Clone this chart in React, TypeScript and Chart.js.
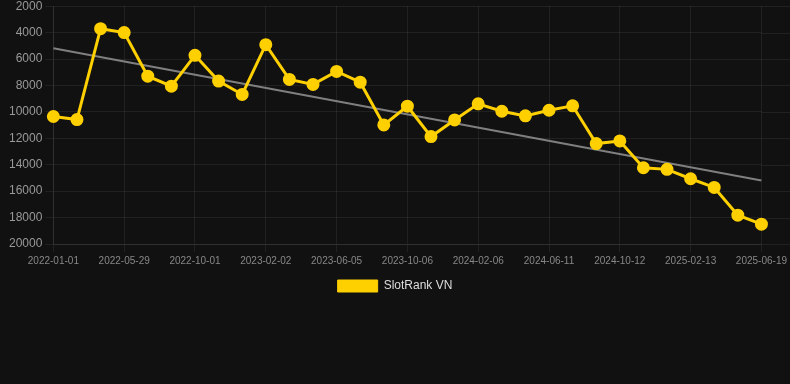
import React, { useEffect, useRef } from "react";
import { Chart, registerables } from "chart.js";

Chart.register(...registerables);

const categories: string[] = [
  "2022-01-01", "2022-02-20", "2022-04-09", "2022-05-29", "2022-07-10", "2022-08-20",
  "2022-10-01", "2022-11-11", "2022-12-22", "2023-02-02", "2023-03-15", "2023-04-25",
  "2023-06-05", "2023-07-16", "2023-08-26", "2023-10-06", "2023-11-16", "2023-12-27",
  "2024-02-06", "2024-03-18", "2024-04-30", "2024-06-11", "2024-07-22", "2024-09-01",
  "2024-10-12", "2024-11-22", "2025-01-02", "2025-02-13", "2025-03-26", "2025-05-08",
  "2025-06-19",
];

const rankValues: number[] = [
  10350, 10580, 3700, 4000, 7300, 8050, 5720, 7670, 8680, 4910, 7540, 7920, 6940, 7750,
  10990, 9570, 11870, 10610, 9390, 9950, 10300, 9875, 9540, 12400, 12200, 14230, 14350,
  15060, 15720, 17820, 18500,
];

const trendStart = { x: "2022-01-01", y: 5190 };
const trendEnd = { x: "2025-06-19", y: 15190 };

const yTicks = { min: 2000, max: 20000, step: 2000 };

const seriesLabel = "SlotRank VN";
const YELLOW = "#ffd000";
const GRID = "rgba(255,255,255,0.07)";

const extendGrid = {
  id: "extendGrid",
  beforeDatasetsDraw(chart: any) {
    const y = chart.scales.y;
    const { ctx, chartArea } = chart;
    ctx.save();
    ctx.strokeStyle = GRID;
    ctx.lineWidth = 1;
    y.ticks.forEach((_t: any, i: number) => {
      const py = Math.round(y.getPixelForTick(i)) + 0.5;
      ctx.beginPath();
      ctx.moveTo(chartArea.right, py);
      ctx.lineTo(chart.width, py);
      ctx.stroke();
    });
    ctx.restore();
  },
};

export default function App() {
  const ref = useRef<HTMLCanvasElement | null>(null);
  useEffect(() => {
    document.body.style.margin = "0";
    document.body.style.background = "#111111";
    Chart.defaults.font.family = "'Liberation Sans', Arial, Helvetica, sans-serif";
    const chart = new Chart(ref.current as HTMLCanvasElement, {
      type: "line",
      data: {
        labels: categories,
        datasets: [
          {
            label: seriesLabel,
            data: rankValues,
            borderColor: YELLOW,
            backgroundColor: YELLOW,
            borderWidth: 3,
            pointRadius: 5,
            pointBackgroundColor: YELLOW,
            pointBorderColor: YELLOW,
            tension: 0,
          },
          {
            label: "trend",
            data: [trendStart, trendEnd] as any,
            borderColor: "rgba(140,140,140,0.9)",
            borderWidth: 2,
            pointRadius: 0,
            tension: 0,
          },
        ],
      },
      options: {
        animation: false,
        responsive: true,
        maintainAspectRatio: false,
        plugins: {
          legend: {
            position: "bottom",
            labels: {
              color: "#dddddd",
              boxWidth: 40,
              boxHeight: 12,
              font: { size: 12 },
              filter: (item: any) => item.text === seriesLabel,
              generateLabels: (ch: any) =>
                Chart.defaults.plugins.legend.labels
                  .generateLabels(ch)
                  .map((it: any) => ({ ...it, lineWidth: 1 })),
            },
          },
          tooltip: { enabled: false },
        },
        scales: {
          x: {
            grid: {
              color: (c: any) => (c.index % 3 === 0 ? GRID : "transparent"),
            },
            border: { color: GRID },
            ticks: {
              autoSkip: false,
              maxRotation: 0,
              minRotation: 0,
              color: "#888888",
              font: { size: 10 },
              callback: (_v: any, i: number) => (i % 3 === 0 ? categories[i] : ""),
            },
          },
          y: {
            reverse: true,
            min: yTicks.min,
            max: yTicks.max,
            grid: { color: GRID },
            border: { color: GRID },
            afterFit: (s: any) => {
              s.width += 6;
            },
            ticks: {
              stepSize: yTicks.step,
              color: "#999999",
              font: { size: 12 },
              callback: (v: any) => String(v),
            },
          },
        },
      },
      plugins: [extendGrid],
    });
    return () => chart.destroy();
  }, []);
  return (
    <div
      style={{
        width: 790,
        height: 306,
        marginTop: -4,
        position: "relative",
        background: "#111111",
      }}
    >
      <canvas ref={ref} />
    </div>
  );
}
